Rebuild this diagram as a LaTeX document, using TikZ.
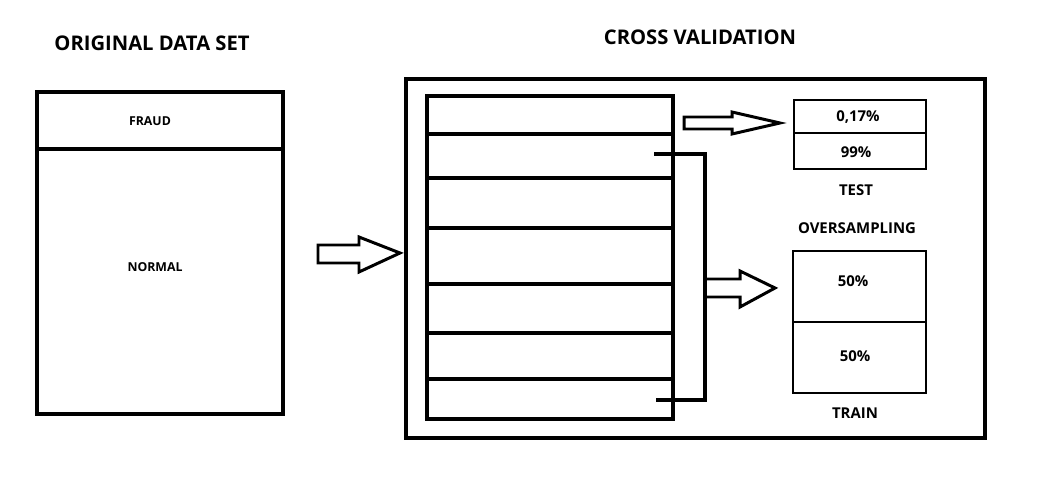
\documentclass[tikz,border=0pt]{standalone}
\usepackage{fontspec}
\setmainfont{Open Sans}
\usetikzlibrary{calc}

\begin{document}
\begin{tikzpicture}[x=0.02cm, y=-0.02cm,
  thickline/.style={line width=2.3pt},
  thinline/.style={line width=1.5pt},
  heading/.style={font=\bfseries\fontsize{11.5}{13}\selectfont},
  smalllabel/.style={font=\bfseries\fontsize{7}{8}\selectfont},
  boxlabel/.style={font=\bfseries\fontsize{8.5}{10}\selectfont},
  blockarrow/.style={line width=1.7pt, line join=miter}]
\useasboundingbox (0,0) rectangle (1048,480);
% original data set
\node[heading] (origtitle) at (152,43) {ORIGINAL DATA SET};
\draw[thickline] (37,92) rectangle (283,414);
\draw[thickline] (37,149)--(283,149);
\node[smalllabel] (fraud) at (150,121) {FRAUD};
\node[smalllabel] (normal) at (155,267) {NORMAL};
% input arrow
\draw[blockarrow] (318,245)--(359,245)--(359,237)--(400,253)--(359,272)--(359,263)--(318,263)--cycle;
% cross validation
\node[heading] (cvtitle) at (700,37) {CROSS VALIDATION};
\draw[thickline] (406,79) rectangle (985,438);
\draw[thickline] (427,96) rectangle (673,419);
\foreach \y in {134,178,228,284,333,379} \draw[thickline] (427,\y)--(673,\y);
% bracket
\coordinate (foldtop) at (654,154);
\coordinate (foldbot) at (656,400);
\draw[line width=1.8pt] (foldtop)--(705,154)--(705,400)--(foldbot);
% arrows to test and train
\draw[blockarrow] (684,117)--(732,117)--(732,112)--(780,123)--(732,134)--(732,129)--(684,129)--cycle;
\draw[blockarrow] (705,279)--(740,279)--(740,271)--(775,288)--(740,307)--(740,297)--(705,297);
% test
\draw[thinline] (794,100) rectangle (926,169);
\draw[thinline] (794,133)--(926,133);
\node[boxlabel] (testhi) at (858,117) {0,17\%};
\node[boxlabel] (testlo) at (856,152) {99\%};
\node[boxlabel] (test) at (856,190) {TEST};
% train
\node[boxlabel] (oversampling) at (857,228) {OVERSAMPLING};
\draw[thinline] (793,251) rectangle (926,393);
\draw[thinline] (793,322)--(926,322);
\node[boxlabel] (trainhi) at (853,281) {50\%};
\node[boxlabel] (trainlo) at (855,356) {50\%};
\node[boxlabel] (train) at (855,413) {TRAIN};
\end{tikzpicture}
\end{document}
